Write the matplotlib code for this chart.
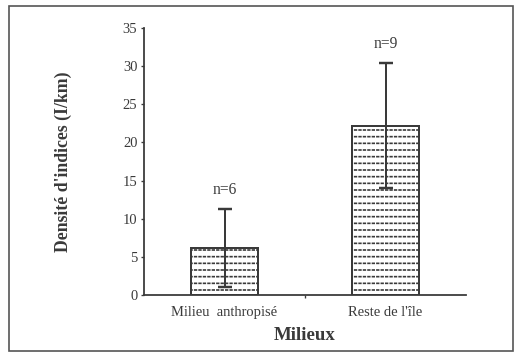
import matplotlib
matplotlib.use('Agg')
import matplotlib.pyplot as plt
from matplotlib.patches import Rectangle
from matplotlib.ticker import FixedLocator
import numpy as np

# ── Data ─────────────────────────────────────────────────────────────────
categories = ['Milieu  anthropisé', "Reste de l'île"]
densite    = [6.2, 22.2]
erreur     = [5.1, 8.2]
n_labels   = ['n=6', 'n=9']
yticks     = [0, 5, 10, 15, 20, 25, 30, 35]

INK  = '#3a3a3a'
FONT = 'Liberation Serif'

plt.rcParams['font.family'] = FONT

DPI = 80
fig = plt.figure(figsize=(515 / DPI, 354 / DPI), dpi=DPI)
ax = fig.add_axes([0.2796, 0.1667, 0.6254, 0.7543])

x = np.arange(len(categories))
w = 0.42

# dashed horizontal fill: dark horizontal hatch broken up by white vertical hatch
with plt.rc_context({'hatch.linewidth': 1.5}):
    ax.bar(x, densite, width=w, color='white', edgecolor=INK, linewidth=0, hatch='--', zorder=2)
with plt.rc_context({'hatch.linewidth': 1.0}):
    ax.bar(x, densite, width=w, fill=False, edgecolor='white', linewidth=0, hatch='|||', zorder=3)
ax.bar(x, densite, width=w, fill=False, edgecolor=INK, linewidth=1.8, zorder=4)

ax.errorbar(x, densite, yerr=erreur, fmt='none', ecolor=INK, elinewidth=1.8,
            capsize=6, capthick=2.2, zorder=5)

for xi, m, e, lab in zip(x, densite, erreur, n_labels):
    ax.text(xi, m + e + 1.4, lab, ha='center', va='bottom', fontsize=14, color=INK)

ax.set_xlim(-0.5, 1.5)
ax.set_ylim(0, 35)
ax.set_yticks(yticks)
ax.set_xticks(x)
ax.set_xticklabels(categories, fontsize=13)
ax.xaxis.set_minor_locator(FixedLocator([0.5]))
ax.tick_params(axis='x', which='major', length=0, pad=10, colors=INK)
ax.tick_params(axis='x', which='minor', length=3, width=1.2, color=INK, direction='out')
ax.tick_params(axis='y', length=3, width=1.2, color=INK, labelsize=13, labelcolor=INK, pad=3)

for s in ['top', 'right']:
    ax.spines[s].set_visible(False)
for s in ['left', 'bottom']:
    ax.spines[s].set_color(INK)
    ax.spines[s].set_linewidth(1.6)

ax.set_ylabel("Densité d'indices (I/km)", fontsize=16, fontweight='bold', color=INK)
ax.yaxis.set_label_coords(-0.224, 0.5)
ax.set_xlabel('Milieux', fontsize=17, fontweight='bold', color=INK)
ax.xaxis.set_label_coords(0.5, -0.15)
ax.xaxis.label.set_va('center')

# outer frame around the figure
fig.patches.append(Rectangle((9 / 515, 3 / 354), 504 / 515, 345 / 354, transform=fig.transFigure,
                             fill=False, edgecolor='#555555', linewidth=1.5))

fig.savefig('out.png', dpi=DPI, facecolor='white')
